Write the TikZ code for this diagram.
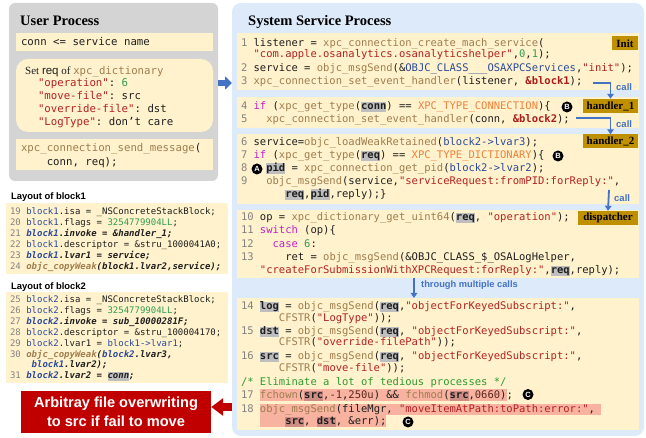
\documentclass[tikz,border=0pt]{standalone}
\usepackage{fontspec}
\setmainfont{Liberation Serif}
\setsansfont{Liberation Sans}
\setmonofont{DejaVu Sans Mono}
\usetikzlibrary{arrows.meta}

% palette
\definecolor{usergray}{RGB}{212,212,212}
\definecolor{codebg}{RGB}{255,242,204}
\definecolor{sysblue}{RGB}{221,234,250}
\definecolor{callblue}{RGB}{68,114,196}
\definecolor{alertred}{RGB}{192,0,0}
\definecolor{taggold}{RGB}{191,144,0}
\definecolor{hlgraycol}{RGB}{190,190,190}
\definecolor{hlsalmoncol}{RGB}{247,178,160}
\definecolor{hlmauvecol}{RGB}{205,140,132}
\definecolor{fncol}{RGB}{160,125,78}
\definecolor{strcol}{RGB}{178,34,34}
\definecolor{numcol}{RGB}{46,158,80}
\definecolor{kwcol}{RGB}{200,30,200}
\definecolor{cstcol}{RGB}{240,130,60}
\definecolor{varcol}{RGB}{42,74,154}
\definecolor{lncol}{RGB}{130,130,130}
\definecolor{txtcol}{RGB}{30,30,30}
\definecolor{cmtcol}{RGB}{46,154,46}
\definecolor{refcol}{RGB}{170,28,28}
\definecolor{dkcol}{RGB}{90,40,30}

% syntax colouring helpers
\newcommand\cfn[1]{\textcolor{fncol}{#1}}
\newcommand\cstr[1]{\textcolor{strcol}{#1}}
\newcommand\cnum[1]{\textcolor{numcol}{#1}}
\newcommand\ckw[1]{\textcolor{kwcol}{#1}}
\newcommand\ccst[1]{\textcolor{cstcol}{#1}}
\newcommand\cvar[1]{\textcolor{varcol}{#1}}
\newcommand\cln[1]{\textcolor{lncol}{#1}}
\newcommand\cdk[1]{\textcolor{dkcol}{#1}}
\newcommand\cbref[1]{\textcolor{refcol}{\bfseries #1}}
\newcommand\nsp[1]{\hspace*{#1\fontcharwd\font`0}}
\newcommand\hlg[1]{{\setlength{\fboxsep}{0pt}\colorbox{hlgraycol}{\rule[-0.21em]{0pt}{0.95em}\bfseries #1}}}
\newcommand\hlm[1]{{\setlength{\fboxsep}{0pt}\colorbox{hlmauvecol}{\rule[-0.21em]{0pt}{0.95em}\bfseries #1}}}
\newcommand\hls[1]{{\setlength{\fboxsep}{0pt}\colorbox{hlsalmoncol}{\rule[-0.22em]{0pt}{1.12em}#1}}}

\newcommand\rfont{\ttfamily\fontsize{10.5}{12}\selectfont\frenchspacing}
\newcommand\lfont{\ttfamily\fontsize{9}{11}\selectfont\frenchspacing}
\newcommand\ufont{\ttfamily\fontsize{10.7}{12}\selectfont\frenchspacing}

\tikzset{
  box/.style={anchor=north west, inner sep=0pt, outer sep=0pt},
  codebox/.style={box, fill=codebg},
  rc/.style={anchor=base west, inner sep=0pt, outer sep=0pt, font=\rfont, text=txtcol},
  lc/.style={anchor=base west, inner sep=0pt, outer sep=0pt, font=\lfont, text=txtcol},
  uc/.style={anchor=base west, inner sep=0pt, outer sep=0pt, font=\ufont, text=txtcol},
  title/.style={anchor=base west, inner sep=0pt, font=\bfseries\fontsize{14.5}{16}\selectfont},
  subtitle/.style={anchor=base west, inner sep=0pt, font=\sffamily\bfseries\fontsize{9.4}{11}\selectfont},
  tag/.style={fill=taggold, inner sep=0pt, minimum height=14pt, font=\bfseries\fontsize{11}{12}\selectfont, text=black},
  calltext/.style={anchor=west, inner sep=0pt, text=callblue, font=\sffamily\bfseries\fontsize{9.5}{11}\selectfont},
  callarrow/.style={draw=callblue, line width=1.8pt, -{Triangle[width=6.5pt,length=5pt]}},
  badge/.style={circle, fill=black, text=white, inner sep=0pt, minimum size=11pt, font=\sffamily\bfseries\fontsize{7.5}{8}\selectfont},
}

\begin{document}
\begin{tikzpicture}[x=1pt, y=-1pt]
\useasboundingbox (0,0) rectangle (646,438);

% ---------------- user side ----------------
\node[box, fill=usergray, rounded corners=6pt, minimum width=209pt, minimum height=178pt] (userp) at (9,3) {};
\node[title] (utitle) at (20,25.5) {User Process};
\node[codebox, minimum width=197pt, minimum height=18pt] (ubar) at (16,33) {};
\node[uc] (u1) at (21,45.5) {conn <= service name};
\node[codebox, rounded corners=12pt, minimum width=197pt, minimum height=73pt] (udict) at (16,59) {};
\node[anchor=base west, inner sep=0pt, text=txtcol] (u2) at (25,74.5)
  {\fontsize{11}{13}\selectfont Set {\sffamily\fontsize{11.5}{13}\selectfont req} of {\ufont\cfn{xpc\_dictionary}}};
\node[uc] (u3) at (38,86.5) {\cstr{"operation"}: \cnum{6}};
\node[uc] (u4) at (38,99.5) {\cstr{"move-file"}: src};
\node[uc] (u5) at (38,112.5) {\cstr{"override-file"}: dst};
\node[uc] (u6) at (38,125.5) {\cstr{"LogType"}: don’t care};
\node[codebox, minimum width=197pt, minimum height=31pt] (usend) at (16,139) {};
\node[uc] (u7) at (21,151.5) {\cfn{xpc\_connection\_send\_message}(};
\node[uc] (u8) at (21,165.5) {\nsp{4}conn, req);};

% ---------------- block layouts ----------------
\node[subtitle] (lay1) at (11,199.5) {Layout of block1};
\node[codebox, minimum width=222pt, minimum height=71pt] (blk1) at (6,203) {};
\node[lc] (k19) at (10,215) {\cln{19} \cvar{block1}.isa = \_NSConcreteStackBlock;};
\node[lc] (k20) at (10,226) {\cln{20} \cvar{block1}.flags = \cnum{3254779904LL};};
\node[lc] (k21) at (10,237) {\cln{21} {\bfseries\itshape\cvar{block1}.invoke = \&handler\_1;}};
\node[lc] (k22) at (10,248) {\cln{22} \cvar{block1}.descriptor = \&stru\_1000041A0;};
\node[lc] (k23) at (10,259) {\cln{23} {\bfseries\itshape\cvar{block1}.lvar1 = service;}};
\node[lc] (k24) at (10,270) {\cln{24} {\bfseries\itshape\cfn{objc\_copyWeak}(block1.lvar2,service);}};

\node[subtitle] (lay2) at (11,289.5) {Layout of block2};
\node[codebox, minimum width=222pt, minimum height=91pt] (blk2) at (6,292) {};
\node[lc] (k25) at (10,302.5) {\cln{25} \cvar{block2}.isa = \_NSConcreteStackBlock;};
\node[lc] (k26) at (10,314) {\cln{26} \cvar{block2}.flags = \cnum{3254779904LL};};
\node[lc] (k27) at (10,325) {\cln{27} {\bfseries\itshape\cvar{block2}.invoke = sub\_10000281F;}};
\node[lc] (k28) at (10,335.5) {\cln{28} \cvar{block2}.descriptor = \&stru\_100004170;};
\node[lc] (k29) at (10,346.5) {\cln{29} \cvar{block2}.lvar1 = \cvar{block1->lvar1};};
\node[lc] (k30) at (10,357.5) {\cln{30} {\bfseries\itshape\cfn{objc\_copyWeak}(\cvar{block2}.lvar3,}};
\node[lc] (k30b) at (10,368) {\nsp{4}{\bfseries\itshape\cvar{block1}.lvar2);}};
\node[lc] (k31) at (10,379) {\cln{31} {\bfseries\itshape\cvar{block2}.lvar2 = \hlg{conn};}};

% ---------------- warning ----------------
\node[fill=alertred, inner sep=0pt, minimum width=190pt, minimum height=42pt, text=white, align=center,
      font=\sffamily\bfseries\fontsize{14.6}{19}\selectfont] (alert) at (116,412)
  {Arbitray file overwriting\\to src if fail to move};

% ---------------- system service side ----------------
\node[box, fill=sysblue, rounded corners=9pt, minimum width=412pt, minimum height=433pt] (sysp) at (232,3) {};
\node[title] (stitle) at (248,25.5) {System Service Process};

\node[codebox, minimum width=402pt, minimum height=57pt] (b1) at (237,33) {};
\node[codebox, minimum width=402pt, minimum height=31pt] (b2) at (237,97) {};
\node[codebox, minimum width=402pt, minimum height=69.5pt] (b3) at (237,134.5) {};
\node[codebox, minimum width=402pt, minimum height=68pt] (b4) at (237,210) {};
\node[codebox, minimum width=402pt, minimum height=132pt] (b5) at (237,298) {};

\node[tag, minimum width=26pt] (tinit) at (625,43.5) {Init};
\node[tag, minimum width=55pt] (h1) at (610.5,106) {handler\_1};
\node[tag, minimum width=55pt] (h2) at (610.5,141.5) {handler\_2};
\node[tag, minimum width=60pt] (disp) at (608,218) {dispatcher};

% init
\node[rc] (r1) at (241,46.5) {\cln{1} listener = \cfn{xpc\_connection\_create\_mach\_service}(};
\node[rc] (r1b) at (241,57.5) {\nsp{2}\cstr{"com.apple.osanalytics.osanalyticshelper"},\cnum{0},\cnum{1});};
\node[rc] (r2) at (241,71.5) {\cln{2} service = \cfn{objc\_msgSend}(\&\cvar{OBJC\_CLASS\_\_\_OSAXPCServices},\cstr{"init"});};
\node[rc] (r3) at (241,84.5) {\cln{3} \cfn{xpc\_connection\_set\_event\_handler}(listener, \cbref{\&block1});};
% handler_1
\node[rc] (r4) at (241,109.5) {\cln{4} \ckw{if} (\cfn{xpc\_get\_type}(\hlg{conn}) == \ccst{XPC\_TYPE\_CONNECTION})\{};
\node[rc] (r5) at (241,122.5) {\cln{5}\nsp{3}\cfn{xpc\_connection\_set\_event\_handler}(conn, \cbref{\&block2});};
% handler_2
\node[rc] (r6) at (241,145.5) {\cln{6} service=\cfn{objc\_loadWeakRetained}(\cvar{block2->lvar3});};
\node[rc] (r7) at (241,159) {\cln{7} \ckw{if} (\cfn{xpc\_get\_type}(\hlg{req}) == \ccst{XPC\_TYPE\_DICTIONARY})\{};
\node[rc] (r8) at (241,172) {\cln{8}\nsp{3}\hlg{pid} = \cfn{xpc\_connection\_get\_pid}(\cvar{block2->lvar2});};
\node[rc] (r9) at (241,185) {\cln{9}\nsp{3}\cfn{objc\_msgSend}(service,\cstr{"serviceRequest:fromPID:forReply:"},};
\node[rc] (r9b) at (241,198) {\nsp{7}\hlg{req},\hlg{pid},reply);\}};
% dispatcher
\node[rc] (r10) at (241,220.5) {\cln{10} op = \cfn{xpc\_dictionary\_get\_uint64}(\hlg{req}, \cstr{"operation"});};
\node[rc] (r11) at (241,234) {\cln{11} \ckw{switch} (op)\{};
\node[rc] (r12) at (241,247.5) {\cln{12}\nsp{3}\ckw{case} \cnum{6}:};
\node[rc] (r13) at (241,260.5) {\cln{13}\nsp{5}ret = \cfn{objc\_msgSend}(\&OBJC\_CLASS\_\$\_OSALogHelper,};
\node[rc] (r13b) at (241,274) {\nsp{3}\cstr{"createForSubmissionWithXPCRequest:forReply:"},\hlg{req},reply);};
% helper
\node[rc] (r14) at (241,310) {\cln{14} \hlg{log} = \cfn{objc\_msgSend}(\hlg{req},\cstr{"objectForKeyedSubscript:"},};
\node[rc] (r14b) at (241,321.5) {\nsp{6}\cfn{CFSTR}(\cstr{"LogType"}));};
\node[rc] (r15) at (241,334.5) {\cln{15} \hlg{dst} = \cfn{objc\_msgSend}(\hlg{req}, \cstr{"objectForKeyedSubscript:"},};
\node[rc] (r15b) at (241,346) {\nsp{6}\cfn{CFSTR}(\cstr{"override-filePath"}));};
\node[rc] (r16) at (241,360) {\cln{16} \hlg{src} = \cfn{objc\_msgSend}(\hlg{req}, \cstr{"objectForKeyedSubscript:"},};
\node[rc] (r16b) at (241,372) {\nsp{6}\cfn{CFSTR}(\cstr{"move-file"}));};
\node[rc] (rc0) at (241,386) {\textcolor{cmtcol}{/* Eliminate a lot of tedious processes */}};
\node[rc] (r17) at (241,398.5) {\cln{17} \hls{\cfn{fchown}(\hlm{src},\cdk{-1},\cdk{250u}) \&\& \cfn{fchmod}(\hlm{src},\cdk{0660})};};
\node[rc] (r18) at (241,413) {\cln{18} \hls{\cfn{objc\_msgSend}(fileMgr, \cstr{"moveItemAtPath:toPath:error:"}, }};
\node[rc] (r18b) at (241,424.5) {\nsp{3}\hls{\nsp{4}\hlm{src}, \hlm{dst}, \&err);}};

% markers
\node[badge] (mB1) at (567,107) {B};
\node[badge] (mB2) at (558,156) {B};
\node[badge] (mA) at (257,169) {A};
\node[badge] (mC1) at (528,394.5) {C};
\node[badge] (mC2) at (408,422) {C};

% call flow
\coordinate (c1) at (593,83);
\coordinate (c2) at (576,118);
\coordinate (c3) at (609,190);
\draw[callarrow] (c1) -| (h1.north);
\draw[callarrow] (c2) -| (h2.north);
\draw[callarrow] (c3) -- (disp.north);
\node[calltext] (call1) at (616,87) {call};
\node[calltext] (call2) at (616,124) {call};
\node[calltext] (call3) at (614,198) {call};
\draw[callarrow] ([xshift=-24pt]b4.south) -- ([xshift=-24pt]b5.north);
\node[calltext, font=\sffamily\bfseries\fontsize{9.3}{11}\selectfont] (thru) at (421,285) {through multiple calls};

% process hand-over and warning arrows
\draw[callblue, line width=6pt, -{Triangle[width=13pt,length=7pt]}] ([yshift=9pt]userp.east) -- ([yshift=136.5pt]sysp.west);
\draw[alertred, line width=8pt, -{Triangle[width=17pt,length=12pt]}] ([yshift=-187.5pt]sysp.west) -- ([yshift=5pt]alert.east);
\end{tikzpicture}
\end{document}
